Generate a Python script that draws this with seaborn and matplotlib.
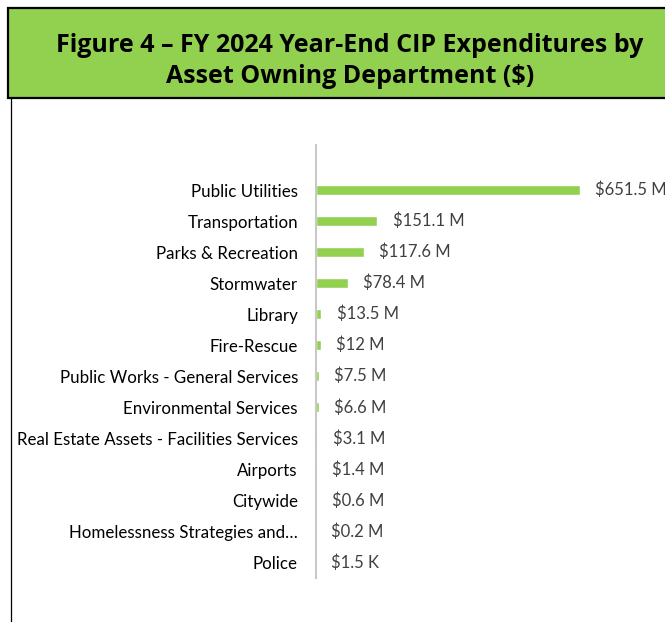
import pandas as pd
import matplotlib.pyplot as plt
import seaborn as sns
from matplotlib.patches import Rectangle
from matplotlib.lines import Line2D

# Data
departments = ['Public Utilities', 'Transportation', 'Parks & Recreation', 'Stormwater',
               'Library', 'Fire-Rescue', 'Public Works - General Services',
               'Environmental Services', 'Real Estate Assets - Facilities Services',
               'Airports', 'Citywide', 'Homelessness Strategies and\u2026', 'Police']
spend_millions = [651.5, 151.1, 117.6, 78.4, 13.5, 12, 7.5, 6.6, 3.1, 1.4, 0.6, 0.2, 0.0015]
value_labels = ['$651.5 M', '$151.1 M', '$117.6 M', '$78.4 M', '$13.5 M', '$12 M', '$7.5 M',
                '$6.6 M', '$3.1 M', '$1.4 M', '$0.6 M', '$0.2 M', '$1.5 K']

df = pd.DataFrame({'department': departments, 'spend': spend_millions})

GREEN = '#92D050'

sns.set_style('white')
plt.rcParams['font.family'] = ['Lato', 'DejaVu Sans']

fig = plt.figure(figsize=(6.65, 6.22), dpi=100)

# title banner
fig.patches.append(Rectangle((8 / 665, 1 - 98 / 622), 1.0, 90 / 622, transform=fig.transFigure,
                             facecolor=GREEN, edgecolor='black', linewidth=1.6, zorder=0))
fig.text(0.526, 1 - 61 / 622, 'Figure 4 \u2013 FY 2024 Year-End CIP Expenditures by\nAsset Owning Department ($)',
         ha='center', va='center', fontsize=18, fontweight='bold', family='Open Sans',
         linespacing=1.3, color='black')
fig.lines.append(Line2D([10.5 / 665, 10.5 / 665], [0, 1 - 98 / 622], transform=fig.transFigure,
                        color='black', linewidth=0.9))

ax = fig.add_axes([316 / 665, 44 / 622, 349 / 665, 433 / 622])
sns.barplot(data=df, y='department', x='spend', color=GREEN, width=0.33, ax=ax,
            saturation=1, orient='h')

ax.set_xlim(0, 651.5 * 349 / 264)
ax.set_ylim(12.5, -1.45)
ax.set_xlabel('')
ax.set_ylabel('')
ax.set_xticks([])
ax.tick_params(axis='y', length=0, pad=13, labelsize=12.2, labelcolor='black')
for side in ['top', 'right', 'bottom']:
    ax.spines[side].set_visible(False)
ax.spines['left'].set_color('#c8c8c8')
ax.spines['left'].set_linewidth(1.5)

for i, (v, lab) in enumerate(zip(spend_millions, value_labels)):
    ax.annotate(lab, xy=(v, i), xytext=(11, 0), textcoords='offset points',
                ha='left', va='center', fontsize=12, color='#404040', annotation_clip=False)

fig.savefig('out.png', dpi=100)
